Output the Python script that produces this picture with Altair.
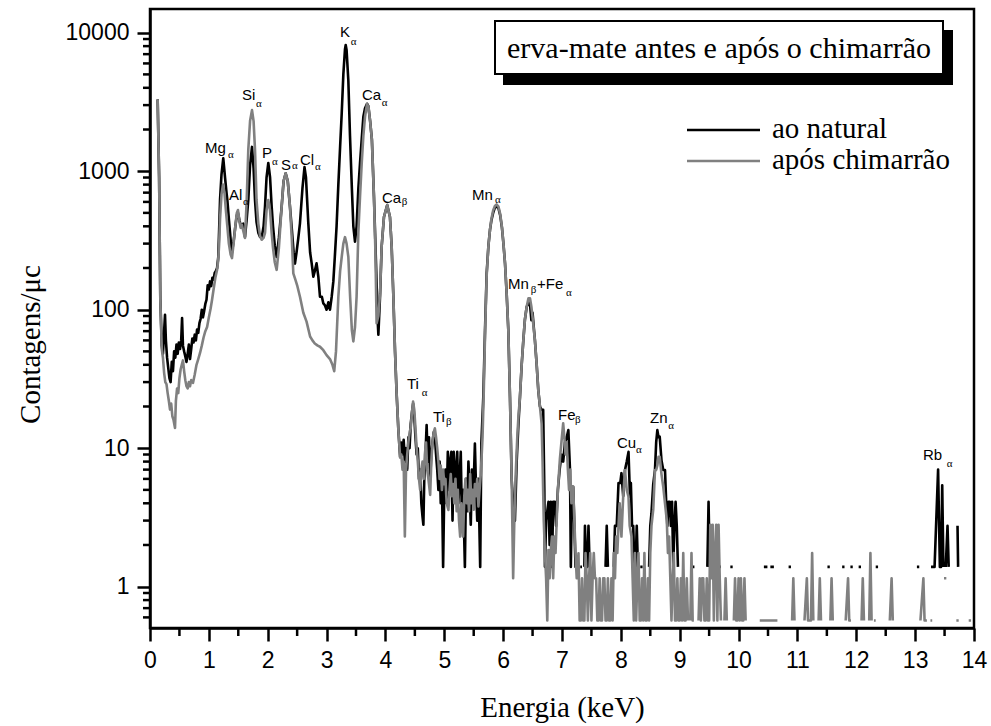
import altair as alt
import pandas as pd

N = None

# ---------------- spectrum "ao natural" (black) ----------------
black_low_e = [0.13, 0.155, 0.175, 0.20, 0.22, 0.24, 0.255, 0.27, 0.29, 0.31,
               0.33, 0.35, 0.37, 0.39, 0.41, 0.43, 0.45, 0.47, 0.49, 0.51,
               0.53, 0.545, 0.56, 0.58, 0.60, 0.62, 0.64, 0.66, 0.68, 0.70,
               0.72, 0.74, 0.76, 0.78, 0.80, 0.82, 0.84, 0.86, 0.88, 0.90,
               0.92, 0.94, 0.96, 0.98, 1.00, 1.02, 1.04, 1.06, 1.08, 1.10,
               1.12, 1.14, 1.16, 1.175, 1.19, 1.215, 1.245, 1.275, 1.30, 1.314,
               1.34, 1.36, 1.39, 1.42, 1.45, 1.475, 1.495, 1.52, 1.54, 1.558,
               1.585, 1.614, 1.643, 1.67, 1.70, 1.733, 1.76, 1.784, 1.81, 1.84,
               1.87, 1.897, 1.93, 1.954, 1.98, 2.01, 2.04, 2.067, 2.09, 2.12,
               2.152, 2.19, 2.237, 2.27, 2.305, 2.34, 2.378, 2.41, 2.44, 2.463,
               2.49, 2.52, 2.548, 2.59, 2.625, 2.65, 2.69, 2.72, 2.747, 2.775,
               2.80, 2.83, 2.86, 2.888, 2.92, 2.945, 2.97, 3.00, 3.03, 3.058,
               3.087, 3.115, 3.14, 3.17, 3.20, 3.23, 3.257, 3.285, 3.313, 3.325,
               3.34, 3.37, 3.398, 3.43, 3.455, 3.483, 3.51, 3.54, 3.568, 3.597,
               3.625, 3.653, 3.687, 3.71, 3.74, 3.77, 3.805, 3.84, 3.868, 3.88,
               3.908, 3.936, 3.975, 4.03, 4.077, 4.106, 4.135, 4.163, 4.19, 4.22]
black_low_c = [3300, 900, 120, 55, 48, 70, 92, 60, 45, 38,
               32, 30, 42, 36, 50, 45, 56, 48, 58, 52,
               60, 87, 55, 50, 46, 42, 48, 56, 44, 52,
               62, 58, 66, 60, 72, 68, 80, 86, 100, 88,
               98, 110, 118, 150, 140, 160, 148, 170, 165, 185,
               190, 200, 240, 380, 620, 950, 1240, 900, 700, 620,
               450, 358, 256, 310, 400, 480, 500, 440, 410, 398,
               418, 335, 450, 620, 1100, 1497, 1050, 620, 430, 360,
               335, 330, 400, 555, 900, 1146, 900, 555, 400, 290,
               240, 330, 555, 850, 966, 850, 555, 380, 260, 215,
               260, 330, 420, 750, 1071, 900, 420, 260, 216, 173,
               190, 216, 173, 124, 124, 111, 108, 100, 113, 100,
               124, 160, 240, 400, 800, 1500, 2600, 5000, 7600, 8150,
               7500, 4500, 1800, 750, 400, 310, 400, 750, 1140, 1700,
               2470, 2850, 3070, 2950, 2300, 1690, 655, 216, 84, 66,
               124, 286, 467, 569, 467, 286, 124, 50, 25, 13.5]

black_mid_e = [4.25, 4.27, 4.29, 4.31, 4.33, 4.35, 4.37, 4.39, 4.41, 4.43,
               4.45, 4.47, 4.49, 4.51, 4.53, 4.55, 4.57, 4.59, 4.61, 4.63,
               4.645, 4.66, 4.68, 4.70, 4.72, 4.74, 4.76, 4.78, 4.80, 4.82,
               4.84, 4.86, 4.88, 4.90, 4.92, 4.94, 4.96, 4.98, 5.00, 5.02,
               5.04, 5.06, 5.08, 5.10, 5.12, 5.14, 5.16, 5.18, 5.20, 5.22,
               5.24, 5.26, 5.28, 5.30, 5.32, 5.35, 5.37, 5.39, 5.41, 5.43,
               5.45, 5.47, 5.49, 5.52, 5.54, 5.56, 5.58, 5.61, 5.63, 5.663,
               5.692, 5.72, 5.75, 5.776, 5.80, 5.83, 5.86, 5.89, 5.92, 5.95,
               5.98, 6.005, 6.032, 6.06, 6.088, 6.116, 6.145, 6.17, 6.20, 6.23,
               6.26, 6.286, 6.315, 6.343, 6.37, 6.40, 6.43, 6.456, 6.48, 6.50,
               6.52, 6.54, 6.57, 6.597, 6.625, 6.654, 6.68, 6.70, 6.71, 6.73,
               6.77, 6.79, 6.81, 6.83, 6.85, 6.88, 6.90, 6.93, 6.96, 6.99,
               7.02, 7.05, 7.08, 7.108, 7.136, 7.15, 7.17, 7.19, 7.21, 7.23,
               7.25]
black_mid_c = [8.6, 11, 9, 11.5, 8, 10, 7, 12, 10, 15,
               18, 21, 17, 12, 9, 10, 6, 7, 4, 3.2,
               2.8, 6, 9, 14.7, 8, 12, 6, 9, 11, 13,
               12, 9, 7, 5, 8, 4, 6, 1.39, 5, 7,
               4, 9.4, 5, 8, 9.4, 3, 9.4, 5, 7, 9.4,
               4, 6, 9.4, 3, 5, 1.39, 6, 3.5, 8, 5,
               2.8, 7, 4, 10.8, 5, 3, 6, 1.39, 10.8, 23.5,
               71, 183, 290, 376, 440, 500, 545, 560, 540, 480,
               390, 300, 216, 130, 71, 23.5, 5.9, 4.0, 3, 8,
               15, 23.5, 40, 60, 85, 105, 112, 110, 84, 95,
               75, 60, 40, 26.3, 20, 18.9, 18.9, 5, 1.39, 3,
               4.1, 2, 4.1, 1.39, 4.1, 4.1, 2.75, 5, 7, 9,
               8, 11, 12, 13.5, 6.96, 1.39, 5.27, 5.27, 2.75, 1.39,
               1.39]

black_high_e = [7.27, 7.31, 7.34, 7.36, 7.38, 7.39, 7.41, 7.43, 7.45, 7.47,
                7.49, 7.74, 7.76, 7.78, 7.80, 7.88, 7.90, 7.93, 7.96, 7.99,
                8.01, 8.04, 8.07, 8.10, 8.13, 8.155, 8.17, 8.19, 8.21, 8.23,
                8.25, 8.27, 8.29, 8.31, 8.33, 8.37, 8.39, 8.48, 8.50, 8.52,
                8.55, 8.58, 8.60, 8.62, 8.64, 8.66, 8.69, 8.72, 8.75, 8.77,
                8.79, 8.81, 8.83, 8.85, 8.87, 8.89, 8.91, 8.93, 8.95, 8.97,
                8.99, 9.21, 9.25, 9.27, 9.47, 9.49, 9.51, 9.53, 9.66, 9.70,
                9.72, 9.86, 9.90, 9.92, 10.43, 10.49, 10.51, 10.54, 10.60, 10.62,
                10.85, 10.89, 10.91, 11.51, 11.55, 11.57, 11.76, 11.80, 11.82, 11.90,
                11.94, 11.96, 12.04, 12.08, 12.10, 12.33, 12.37, 12.39, 13.03, 13.07,
                13.09, 13.27, 13.33, 13.39, 13.42, 13.44, 13.46, 13.48, 13.50, 13.52,
                13.55, 13.57, 13.59, 13.72, 13.73, 13.75]
black_high_c = [N, 1.39, 1.39, N, 1.39, 2.75, 1.39, 1.39, 2.75, 1.39,
                N, 1.39, 2.75, 1.39, N, 1.39, 2.75, 2.75, 5.6, 5.6,
                6.6, 4.5, 6.96, 8, 9.4, 4.47, 5.6, 2.75, 2.75, 1.39,
                1.39, 2.75, 1.39, N, 1.39, 1.39, N, 1.39, 2.75, 3.39,
                5.5, 6.96, 11, 13.5, 12, 12.1, 8.2, 6.96, 6.96, 4.1,
                2.75, 4.1, 4.1, 2.75, 4.1, 1.39, 2.75, 4.1, 2.75, 1.39,
                N, 1.39, 1.39, N, 1.39, 4.1, 1.39, N, 1.39, 1.39,
                N, 1.39, 1.39, N, 1.39, 1.39, N, 1.39, 1.39, N,
                1.39, 1.39, N, 1.39, 1.39, N, 1.39, 1.39, N, 1.39,
                1.39, N, 1.39, 1.39, N, 1.39, 1.39, N, 1.39, 1.39,
                N, 1.39, 1.39, 7, 1.39, 1.39, 5.4, 1.39, N, 1.39,
                2.75, 1.39, N, 2.75, 1.39, N]

# ---------------- spectrum "após chimarrão" (gray) ----------------
gray_low_e = [0.13, 0.155, 0.175, 0.20, 0.22, 0.24, 0.26, 0.28, 0.30, 0.32,
              0.34, 0.36, 0.38, 0.40, 0.425, 0.44, 0.46, 0.48, 0.50, 0.52,
              0.54, 0.56, 0.58, 0.60, 0.62, 0.64, 0.66, 0.68, 0.70, 0.73,
              0.76, 0.79, 0.82, 0.85, 0.88, 0.91, 0.94, 0.97, 1.00, 1.03,
              1.053, 1.08, 1.11, 1.14, 1.16, 1.175, 1.19, 1.215, 1.24, 1.265,
              1.29, 1.314, 1.34, 1.37, 1.393, 1.42, 1.45, 1.475, 1.495, 1.52,
              1.54, 1.56, 1.585, 1.614, 1.643, 1.67, 1.70, 1.733, 1.76, 1.784,
              1.81, 1.84, 1.87, 1.897, 1.93, 1.954, 1.98, 2.01, 2.04, 2.067,
              2.09, 2.12, 2.152, 2.19, 2.237, 2.27, 2.305, 2.34, 2.378, 2.41,
              2.435, 2.47, 2.50, 2.548, 2.605, 2.66, 2.72, 2.76, 2.80, 2.85,
              2.888, 2.945, 3.00, 3.058, 3.10, 3.13, 3.16, 3.20, 3.23, 3.257,
              3.285, 3.313, 3.34, 3.37, 3.40, 3.43, 3.455, 3.483, 3.51, 3.54,
              3.568, 3.597, 3.625, 3.653, 3.687, 3.71, 3.74, 3.77, 3.805, 3.83,
              3.85, 3.88, 3.908, 3.936, 3.975, 4.03, 4.077, 4.106, 4.135, 4.163,
              4.19, 4.22]
gray_low_c = [3300, 900, 120, 52, 45, 35, 30, 29, 25, 22,
              19, 21, 17, 16, 14, 22, 27, 25, 32, 37,
              40, 43, 36, 31, 28, 27, 30, 28, 31, 29.6,
              34, 40, 44, 48.7, 55, 63, 70, 75, 88, 102,
              117, 140, 170, 194, 230, 300, 450, 680, 800, 700,
              520, 400, 300, 250, 236, 300, 400, 500, 524, 430,
              390, 410, 370, 330, 620, 1430, 2300, 2760, 2300, 1430,
              620, 420, 340, 320, 330, 358, 520, 620, 520, 358,
              280, 220, 194, 280, 555, 850, 966, 850, 555, 320,
              183, 165, 150, 124, 95, 82, 64, 60, 57, 55,
              54, 51, 47, 44, 40, 36, 50, 124, 190, 240,
              300, 334, 300, 240, 124, 71, 59, 75, 124, 362,
              650, 1140, 1800, 2470, 3050, 2950, 2300, 1690, 655, 260,
              80, 90, 130, 286, 467, 569, 467, 286, 124, 50,
              25, 13.5]

gray_mid_e = [4.25, 4.27, 4.29, 4.31, 4.33, 4.35, 4.37, 4.39, 4.41, 4.43,
              4.45, 4.47, 4.49, 4.51, 4.53, 4.55, 4.57, 4.59, 4.61, 4.63,
              4.65, 4.67, 4.69, 4.71, 4.73, 4.76, 4.78, 4.80, 4.82, 4.84,
              4.86, 4.88, 4.90, 4.92, 4.94, 4.96, 4.98, 5.00, 5.02, 5.04,
              5.07, 5.09, 5.11, 5.13, 5.15, 5.17, 5.19, 5.21, 5.23, 5.25,
              5.27, 5.29, 5.32, 5.34, 5.36, 5.38, 5.40, 5.42, 5.44, 5.46,
              5.48, 5.50, 5.52, 5.54, 5.56, 5.58, 5.60, 5.62, 5.65, 5.67,
              5.692, 5.72, 5.75, 5.776, 5.80, 5.83, 5.86, 5.89, 5.92, 5.95,
              5.98, 6.005, 6.032, 6.06, 6.088, 6.116, 6.145, 6.17, 6.19, 6.21,
              6.24, 6.26, 6.286, 6.315, 6.343, 6.37, 6.40, 6.43, 6.456, 6.48,
              6.51, 6.54, 6.57, 6.597, 6.625, 6.654, 6.67, 6.69, 6.71, 6.73,
              6.75, 6.77, 6.79, 6.81, 6.83, 6.85, 6.87, 6.89, 6.91, 6.93,
              6.965, 6.99, 7.02, 7.04, 7.06, 7.08, 7.10, 7.12, 7.14, 7.16,
              7.19, 7.21]
gray_mid_c = [8.6, 9, 7, 8, 2.3, 7, 9, 11, 13, 14,
              18, 21.7, 19, 14, 10, 8, 6, 5, 7, 8,
              6, 9, 11, 7, 6, 4.6, 8, 11, 13, 13.9,
              12, 10, 8, 6, 7.5, 5, 7, 5.5, 6, 4,
              3.58, 5, 6.5, 4.5, 5.5, 4, 6, 3.5, 5, 3,
              2.3, 4, 2.3, 4.5, 6, 4, 5, 3.5, 6.5, 4,
              5, 3.6, 5.5, 4.5, 6, 3.8, 5, 6.5, 12, 25,
              65, 175, 290, 376, 450, 520, 560, 575, 555, 490,
              395, 300, 216, 130, 71, 23.5, 5.9, 1.15, 3, 6,
              12, 17, 23.5, 40, 60, 85, 105, 121, 121, 105,
              80, 60, 40, 26.3, 20, 15, 8, 3, 1.75, 1.15,
              0.57, 1.84, 1.15, 1.84, 2.3, 1.15, 2.3, 1.75, 3, 5,
              8.45, 11, 15.1, 12, 9, 11, 7, 5, 7, 4,
              5.27, 3]

gray_high_e = [7.23, 7.25, 7.28, 7.30, 7.32, 7.34, 7.36, 7.38, 7.40, 7.42,
               7.44, 7.46, 7.48, 7.50, 7.52, 7.54, 7.56, 7.58, 7.60, 7.62,
               7.64, 7.66, 7.68, 7.70, 7.72, 7.74, 7.76, 7.78, 7.80, 7.82,
               7.84, 7.86, 7.88, 7.90, 7.92, 7.94, 7.96, 7.98, 8.01, 8.04,
               8.07, 8.10, 8.13, 8.15, 8.18, 8.20, 8.22, 8.24, 8.26, 8.28,
               8.30, 8.32, 8.34, 8.36, 8.38, 8.40, 8.42, 8.44, 8.46, 8.48,
               8.50, 8.52, 8.55, 8.58, 8.60, 8.62, 8.64, 8.66, 8.69, 8.72,
               8.75, 8.78, 8.80, 8.82, 8.84, 8.86, 8.88, 8.90, 8.92, 8.94,
               8.96, 8.98, 9.00, 9.02, 9.04, 9.06, 9.08, 9.10, 9.12, 9.14,
               9.16, 9.18, 9.20, 9.22, 9.24, 9.26, 9.32, 9.34, 9.36, 9.38,
               9.40, 9.42, 9.44, 9.46, 9.48, 9.50, 9.52, 9.54, 9.56, 9.58,
               9.60, 9.62, 9.64, 9.66, 9.68, 9.70, 9.72, 9.76, 9.78, 9.80,
               9.82, 9.92, 9.94, 9.96, 9.98, 10.00, 10.02, 10.04, 10.06, 10.08,
               10.10, 10.12, 10.14, 10.36, 10.66, 10.68, 10.91, 10.93, 10.95, 10.97,
               11.12, 11.16, 11.18, 11.20, 11.23, 11.25, 11.27, 11.29, 11.36, 11.38,
               11.40, 11.42, 11.56, 11.58, 11.60, 11.62, 11.82, 11.86, 11.88, 11.91,
               11.93, 12.09, 12.11, 12.13, 12.15, 12.22, 12.24, 12.26, 12.28, 12.30,
               12.33, 12.35, 12.57, 12.60, 12.62, 12.64, 13.09, 13.14, 13.16, 13.20,
               13.22, 13.26, 13.29, 13.31, 13.49, 13.53, 13.55, 13.70, 13.74, 13.76,
               13.91, 13.95]
gray_high_c = [1.75, 1.15, 1.74, 0.57, 0.57, 1.15, 0.57, 0.57, 1.75, 1.15,
               0.57, 1.15, 1.75, 0.57, 1.15, 1.75, 1.15, 1.15, 0.57, 0.57,
               1.15, 0.57, 0.57, 1.15, 1.15, 0.57, 0.57, 1.15, 0.57, 0.57,
               1.15, 0.57, 1.75, 1.15, 2.3, 1.75, 2.75, 4, 2.3, 4.5,
               6.96, 5, 4.47, 2.75, 2.3, 1.15, 0.57, 1.75, 0.57, 1.15,
               1.75, 0.57, 0.57, 1.15, 0.57, 1.75, 0.57, 0.57, 1.15, 0.57,
               1.75, 2.75, 3.6, 6.96, 6.96, 7.5, 8.67, 8.67, 6.5, 5.27,
               4, 3.03, 1.75, 2.3, 1.15, 0.57, 1.15, 1.75, 0.57, 0.57,
               1.15, 0.57, 0.57, 1.15, 0.57, 1.75, 0.57, 0.57, 1.15, 0.57,
               N, 0.57, 1.75, 0.57, 0.57, N, 0.57, 1.15, 0.57, 1.15,
               1.15, 0.57, 0.57, 1.15, 0.57, 0.57, 2.8, 1.15, 2.8, 0.57,
               1.75, 2.8, 0.57, 2.8, 1.15, 0.57, N, 0.57, 1.15, 0.57,
               N, 0.57, 1.15, 0.57, 0.57, 1.15, 0.57, 1.15, 0.57, 0.57,
               1.15, 0.57, N, 0.57, 0.57, N, 0.57, 1.15, 0.57, N,
               0.57, 1.15, 0.57, 0.57, 0.57, 1.75, 0.57, N, 0.57, 1.15,
               0.57, N, 0.57, 1.15, 0.57, N, 0.57, 1.15, 0.57, 0.57,
               N, 0.57, 1.15, 0.57, N, 0.57, 1.75, 0.57, N, 0.57,
               0.57, N, 0.57, 1.15, 0.57, N, 0.57, 1.15, 0.57, 0.57,
               N, 0.57, 0.57, N, 1.15, 1.15, N, 0.57, 0.57, N,
               0.57, 0.57]

# ---------------- peak annotations ----------------
peak_names = ["Mg", "Al", "Si", "P", "S", "Cl", "K", "Ca", "Ca", "Mn",
              "Mn", "+Fe", "Ti", "Ti", "Fe", "Cu", "Zn", "Rb"]
peak_e = [0.934, 1.342, 1.563, 1.903, 2.226, 2.548, 3.228, 3.602, 3.942, 5.471,
          6.082, 6.575, 4.366, 4.808, 6.932, 7.934, 8.495, 13.133]
peak_c = [1353, 620, 3266, 1245, 1020, 1109, 9310, 3266, 589, 620,
          141, 141, 26.8, 15.5, 16.0, 10.0, 15.2, 8.22]

sub_names = ["α", "α", "α", "α", "α", "α", "α", "α", "β", "α",
             "β", "α", "α", "β", "β", "α", "α", "α"]
sub_e = [1.325, 1.58, 1.801, 2.073, 2.413, 2.803, 3.41, 3.936, 4.276, 5.861,
         6.468, 7.07, 4.616, 5.029, 7.22, 8.257, 8.806, 13.535]
sub_c = [1245, 570, 2907, 1109, 1037, 1020, 8150, 2956, 570, 589,
         132, 126, 23.9, 14.7, 15.2, 9.28, 13.8, 7.32]

# ---------------- axes ----------------
x_major = list(range(0, 15))
x_minor = [0.5, 1.5, 2.5, 3.5, 4.5, 5.5, 6.5, 7.5, 8.5, 9.5, 10.5, 11.5, 12.5, 13.5]
y_major = [1, 10, 100, 1000, 10000]
y_minor = [0.6, 0.7, 0.8, 0.9, 2, 3, 4, 5, 6, 7, 8, 9,
           20, 30, 40, 50, 60, 70, 80, 90, 200, 300, 400, 500, 600, 700, 800, 900,
           2000, 3000, 4000, 5000, 6000, 7000, 8000, 9000]

legend_title = "erva-mate antes e após o chimarrão"
series_names = ["ao natural", "após chimarrão"]
series_colors = ["#000000", "#808080"]

SERIF = "Liberation Serif"
SANS = "Liberation Sans"


def frame(parts):
    e, c = [], []
    for pe, pc in parts:
        assert len(pe) == len(pc), (len(pe), len(pc))
        e += pe
        c += pc
    return pd.DataFrame({"E": e, "C": [float("nan") if v is None else v for v in c]})


black_df = frame([(black_low_e, black_low_c), (black_mid_e, black_mid_c), (black_high_e, black_high_c)])
gray_df = frame([(gray_low_e, gray_low_c), (gray_mid_e, gray_mid_c), (gray_high_e, gray_high_c)])

W, H = 824, 619
xs = alt.Scale(domain=[0, 14], nice=False, zero=False)
ys = alt.Scale(type="log", domain=[0.503, 14830], nice=False)

x_axis = alt.Axis(values=x_major, format="d", labelFlush=False, title="Energia (keV)",
                  titleBaseline="alphabetic", titleY=88)
y_axis = alt.Axis(values=y_major, format="d", labelFlush=False, title="Contagens/μc",
                  titleAngle=270, titleBaseline="middle", titleAlign="center",
                  titleX=-120, titleY=335)

X = alt.X("E:Q", scale=xs, axis=x_axis)
Y = alt.Y("C:Q", scale=ys, axis=y_axis)

line_kw = dict(strokeWidth=2.6, strokeJoin="round", invalid="break-paths-show-domains")

black_line = alt.Chart(black_df).mark_line(color=series_colors[0], **line_kw).encode(x=X, y=Y)
gray_line = alt.Chart(gray_df).mark_line(color=series_colors[1], **line_kw).encode(x=X, y=Y)

xminor = alt.Chart(pd.DataFrame({"E": x_minor})).mark_rule(color="black", strokeWidth=2.5).encode(
    x=X, y=alt.value(H), y2=alt.value(H + 8))
yminor = alt.Chart(pd.DataFrame({"C": y_minor})).mark_rule(color="black", strokeWidth=2.5).encode(
    y=Y, x=alt.value(-7), x2=alt.value(0))

labels = alt.Chart(pd.DataFrame({"t": peak_names, "E": peak_e, "C": peak_c})).mark_text(
    align="left", baseline="alphabetic", font=SANS, fontSize=15, color="black").encode(
    x=X, y=Y, text="t:N")
subs = alt.Chart(pd.DataFrame({"t": sub_names, "E": sub_e, "C": sub_c})).mark_text(
    align="left", baseline="alphabetic", font=SERIF, fontSize=11, color="black").encode(
    x=X, y=Y, text="t:N")

one = pd.DataFrame({"t": [legend_title]})
shadow = alt.Chart(one).mark_rect(color="black").encode(
    x=alt.value(353), x2=alt.value(803), y=alt.value(21), y2=alt.value(76))
box = alt.Chart(one).mark_rect(fill="white", stroke="black", strokeWidth=2).encode(
    x=alt.value(345), x2=alt.value(793), y=alt.value(12), y2=alt.value(65))
box_text = alt.Chart(one).mark_text(font=SERIF, fontSize=30, align="center",
                                    baseline="alphabetic", color="black").encode(
    x=alt.value(569), y=alt.value(49), text="t:N")

leg_layers = []
for i, (name, col) in enumerate(zip(series_names, series_colors)):
    d = pd.DataFrame({"t": [name]})
    yy = 121 + 31 * i
    leg_layers.append(alt.Chart(d).mark_rule(color=col, strokeWidth=2.6).encode(
        x=alt.value(537), x2=alt.value(610), y=alt.value(yy)))
    leg_layers.append(alt.Chart(d).mark_text(font=SERIF, fontSize=29, align="left",
                                             baseline="alphabetic", color="black").encode(
        x=alt.value(622), y=alt.value(yy + 8), text="t:N"))

chart = alt.layer(black_line, gray_line, xminor, yminor, labels, subs,
                  shadow, box, box_text, *leg_layers).properties(
    width=W, height=H,
    padding={"left": 150, "top": 9, "right": 17, "bottom": 98},
    autosize=alt.AutoSizeParams(type="none"),
    background="white",
).configure_view(
    stroke="black", strokeWidth=2.5
).configure_axis(
    tickSize=13, tickWidth=2.5, tickColor="black",
    domainColor="black", domainWidth=2.5, grid=False,
    labelFont=SANS, labelFontSize=23, labelColor="black", labelPadding=8,
    titleFont=SERIF, titleFontSize=29, titleFontWeight="normal", titleColor="black",
)

chart.save("out.html", embed_options={"renderer": "svg", "actions": False})
